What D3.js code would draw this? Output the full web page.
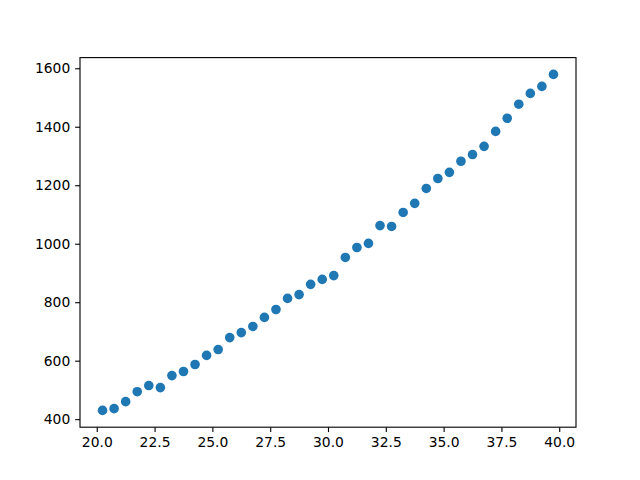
<!DOCTYPE html>
<html>
<head>
<meta charset="utf-8">
<script src="https://cdn.jsdelivr.net/npm/d3@7"></script>
<style>
html,body{margin:0;padding:0;background:#fff;}
svg{display:block;}
</style>
</head>
<body>
<svg id="chart" width="640" height="480"></svg>
<script>
const xValues = [20.25,20.75,21.25,21.75,22.25,22.75,23.25,23.75,24.25,24.75,
  25.25,25.75,26.25,26.75,27.25,27.75,28.25,28.75,29.25,29.75,
  30.25,30.75,31.25,31.75,32.25,32.75,33.25,33.75,34.25,34.75,
  35.25,35.75,36.25,36.75,37.25,37.75,38.25,38.75,39.25,39.75];
const yValues = [430,436,460,494,515,508,549,563,587,618,
  638,679,696,717,748,775,813,826,861,878,
  891,953,987,1001,1062,1059,1107,1138,1189,1223,
  1244,1282,1305,1333,1384,1429,1477,1514,1538,1579];
const xTicks = [20,22.5,25,27.5,30,32.5,35,37.5,40];
const yTicks = [400,600,800,1000,1200,1400,1600];

(function(){
const mL = 80, mR = 576, mT = 57.6, mB = 427.2;
const svg = d3.select("#chart");

function padded(ext){ const r = ext[1]-ext[0]; return [ext[0]-0.05*r, ext[1]+0.05*r]; }
const x = d3.scaleLinear().domain(padded(d3.extent(xValues))).range([mL, mR]);
const y = d3.scaleLinear().domain(padded(d3.extent(yValues))).range([mB, mT]);

const font = "DejaVu Sans, sans-serif";
const xAxis = svg.append("g").attr("transform", `translate(0,${mB})`)
  .call(d3.axisBottom(x).tickValues(xTicks).tickFormat(d3.format(".1f")).tickSizeOuter(0).tickSize(4.86).tickPadding(4.86));
const yAxis = svg.append("g").attr("transform", `translate(${mL},0)`)
  .call(d3.axisLeft(y).tickValues(yTicks).tickFormat(d3.format("d")).tickSizeOuter(0).tickSize(4.86).tickPadding(4.86));
[xAxis, yAxis].forEach(g => {
  g.select(".domain").remove();
  g.selectAll(".tick line").attr("stroke", "#000").attr("stroke-width", 1.11);
  g.selectAll(".tick text").attr("fill", "#000").style("font-family", font).style("font-size", "13.89px");
});

svg.append("g").selectAll("circle")
  .data(xValues.map((v,i)=>[v, yValues[i]]))
  .join("circle")
  .attr("cx", d => x(d[0]))
  .attr("cy", d => y(d[1]))
  .attr("r", 4.8)
  .attr("fill", "#1f77b4");

svg.append("rect").attr("x", mL).attr("y", mT).attr("width", mR-mL).attr("height", mB-mT)
  .attr("fill", "none").attr("stroke", "#000").attr("stroke-width", 1.11);
})();
</script>
</body>
</html>
